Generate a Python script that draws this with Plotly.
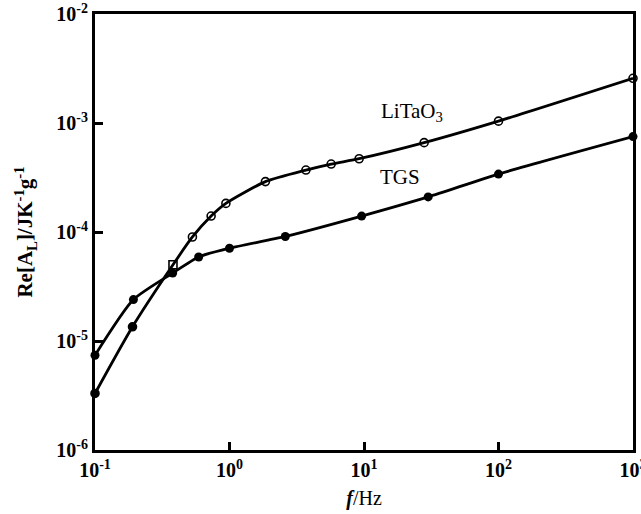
import plotly.graph_objects as go

# LiTaO3 data
litao3_f = [0.1, 0.19, 0.38, 0.53, 0.73, 0.94, 1.85, 3.7, 5.7, 9.2, 28, 100, 1000]
litao3_a = [3.3e-6, 1.35e-5, 5.0e-5, 9.0e-5, 1.4e-4, 1.83e-4, 2.9e-4, 3.7e-4, 4.2e-4, 4.7e-4, 6.6e-4, 1.04e-3, 2.57e-3]
litao3_sym = ["circle", "circle", "square-open", "circle-open", "circle-open", "circle-open", "circle-open",
              "circle-open", "circle-open", "circle-open", "circle-open", "circle-open", "circle-open"]

# TGS data
tgs_f = [0.1, 0.193, 0.378, 0.59, 1.0, 2.6, 9.6, 30, 100, 1000]
tgs_a = [7.4e-6, 2.4e-5, 4.2e-5, 5.9e-5, 7.1e-5, 9.1e-5, 1.4e-4, 2.1e-4, 3.4e-4, 7.5e-4]

x_tickvals = [0.1, 1, 10, 100, 1000]
x_ticktext = ["<b>10<sup>-1</sup></b>", "<b>10<sup>0</sup></b>", "<b>10<sup>1</sup></b>",
              "<b>10<sup>2</sup></b>", "<b>10<sup>3</sup></b>"]
y_tickvals = [1e-6, 1e-5, 1e-4, 1e-3, 1e-2]
y_ticktext = ["<b>10<sup>-6</sup></b>", "<b>10<sup>-5</sup></b>", "<b>10<sup>-4</sup></b>",
              "<b>10<sup>-3</sup></b>", "<b>10<sup>-2</sup></b>"]

serif = "Liberation Serif, DejaVu Serif, serif"

fig = go.Figure()
fig.add_trace(go.Scatter(
    x=litao3_f, y=litao3_a, mode="lines+markers", name="LiTaO3",
    line=dict(color="black", width=2.8, shape="spline", smoothing=0.6),
    marker=dict(symbol=litao3_sym, size=8, color="black", line=dict(color="black", width=1.6)),
    cliponaxis=False,
))
fig.add_trace(go.Scatter(
    x=tgs_f, y=tgs_a, mode="lines+markers", name="TGS",
    line=dict(color="black", width=2.8, shape="spline", smoothing=0.6),
    marker=dict(symbol="circle", size=9, color="black"),
    cliponaxis=False,
))

fig.add_annotation(x=1.357, y=-2.899, xref="x", yref="y", text="LiTaO<sub>3</sub>",
                   showarrow=False, font=dict(family=serif, size=21, color="black"))
fig.add_annotation(x=1.268, y=-3.495, xref="x", yref="y", text="TGS",
                   showarrow=False, font=dict(family=serif, size=21, color="black"))

fig.update_xaxes(type="log", range=[-1, 3], tickvals=x_tickvals, ticktext=x_ticktext,
                 ticks="inside", ticklen=8, tickwidth=2.5, tickcolor="black",
                 showline=True, linewidth=3, linecolor="black", mirror=True, showgrid=False,
                 zeroline=False, ticklabeloverflow="allow", automargin=False,
                 tickfont=dict(family=serif, size=20, color="black"),
                 title=dict(text="<i><b>f</b></i>/Hz", font=dict(family=serif, size=20, color="black"), standoff=11))
fig.update_yaxes(type="log", range=[-6, -2], tickvals=y_tickvals, ticktext=y_ticktext,
                 ticks="inside", ticklen=8, tickwidth=2.5, tickcolor="black",
                 showline=True, linewidth=3, linecolor="black", mirror=True, showgrid=False,
                 zeroline=False, ticklabeloverflow="allow", automargin=False,
                 tickfont=dict(family=serif, size=20, color="black"),
                 title=dict(text="<b>Re[A<sub>L</sub>]/JK<sup>-1</sup>g<sup>-1</sup></b>",
                            font=dict(family=serif, size=21, color="black"), standoff=18))

fig.update_layout(width=641, height=514, margin=dict(l=95, r=8, t=14, b=64, autoexpand=False),
                  plot_bgcolor="white", paper_bgcolor="white", showlegend=False)

# remove the default 8px page margin so the figure fills the window exactly
fig.write_html("out.html", config={"displayModeBar": False},
               post_script="document.body.style.margin='0';")
